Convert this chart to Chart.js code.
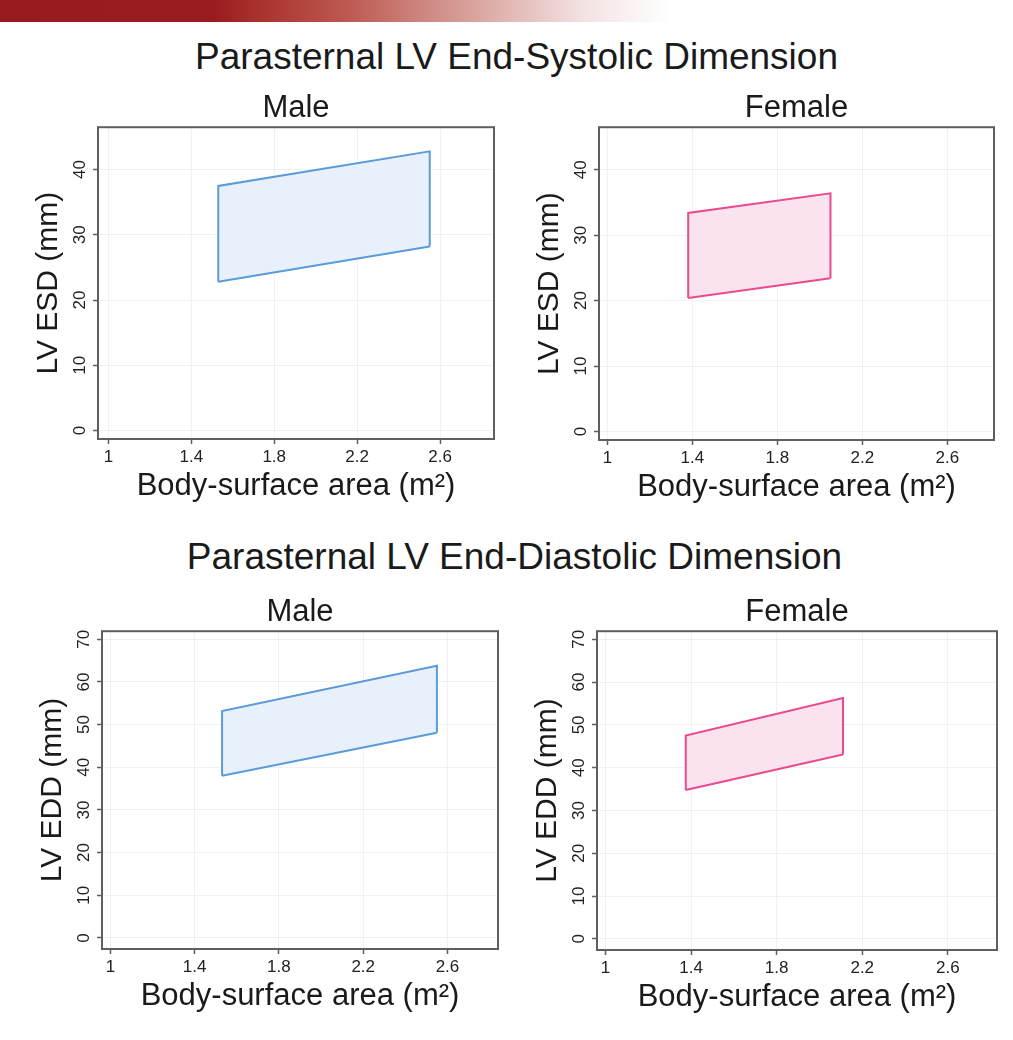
<!DOCTYPE html>
<html>
<head>
<meta charset="utf-8">
<script src="https://cdn.jsdelivr.net/npm/chart.js@4.4.1/dist/chart.umd.min.js"></script>
<style>
  body { margin: 0; background: #fff; width: 1013px; height: 1040px; position: relative; overflow: hidden;
         font-family: 'Liberation Sans', Arial, Helvetica, sans-serif; }
  .bar { position: absolute; left: 0; top: 0; width: 670px; height: 22px;
         background: linear-gradient(to right, #981a1f 0%, #9b1c20 32%, #a8302a 38%, #bd5a52 52%, #d8a19b 70%, #f3e2e2 87%, #ffffff 100%); }
  .head { position: absolute; left: 0; width: 1013px; text-align: center; font-size: 37px; color: #1a1a1a; line-height: 40px; }
  .box { position: absolute; }
</style>
</head>
<body>
<div class="bar"></div>
<div class="head" style="top:37px; padding-left:10px;">Parasternal LV End-Systolic Dimension</div>
<div class="head" style="top:537px; padding-left:8px;">Parasternal LV End-Diastolic Dimension</div>

<div class="box" style="left:31px; top:90px; width:477px; height:415px;"><canvas id="maleEsd"></canvas></div>
<div class="box" style="left:532px; top:90px; width:476px; height:416px;"><canvas id="femaleEsd"></canvas></div>
<div class="box" style="left:35px; top:594px; width:477px; height:421px;"><canvas id="maleEdd"></canvas></div>
<div class="box" style="left:530px; top:594px; width:481px; height:422px;"><canvas id="femaleEdd"></canvas></div>

<script>
// tick labels
const xTicks = [1, 1.4, 1.8, 2.2, 2.6];
const esdTicks = [0, 10, 20, 30, 40];
const eddTicks = [0, 10, 20, 30, 40, 50, 60, 70];

// normal ranges: BSA at both ends, lower and upper limit (mm)
const maleEsdBsa = [1.53, 2.55];
const maleEsdLower = [22.8, 28.2];
const maleEsdUpper = [37.5, 42.8];

const femaleEsdBsa = [1.38, 2.05];
const femaleEsdLower = [20.4, 23.4];
const femaleEsdUpper = [33.4, 36.4];

const maleEddBsa = [1.53, 2.55];
const maleEddLower = [38.0, 48.1];
const maleEddUpper = [53.2, 63.8];

const femaleEddBsa = [1.375, 2.11];
const femaleEddLower = [34.8, 43.1];
const femaleEddUpper = [47.5, 56.3];

const FONT = "'Liberation Sans', Arial, Helvetica, sans-serif";
const MALE = { line: '#5b9bd9', fill: '#e8f1fb' };
const FEMALE = { line: '#ea4b8f', fill: '#fae3ee' };

// box round the plot region, like Stata
const framePlugin = {
    id: 'frame',
    beforeDatasetsDraw(chart) {
        const { ctx, chartArea: a } = chart;
        ctx.save();
        ctx.strokeStyle = '#5f5f5f';
        ctx.lineWidth = 2;
        ctx.strokeRect(a.left, a.top, a.right - a.left, a.bottom - a.top);
        ctx.restore();
    }
};

function makeChart(id, cfg) {
    const { title, yTitle, bsa, lower, upper, yTickVals, yMin, yMax, xMin, xMax, col } = cfg;
    // lower edge, then the rest of the outline (left side, top, right side); the second fills down to the first
    const lowerLine = bsa.map((x, i) => ({ x, y: lower[i] }));
    const outline = [
        { x: bsa[0], y: lower[0] },
        { x: bsa[0], y: upper[0] },
        { x: bsa[1], y: upper[1] },
        { x: bsa[1], y: lower[1] }
    ];
    const gridColor = 'rgba(214,226,238,0.45)';
    return new Chart(document.getElementById(id), {
        type: 'line',
        data: {
            datasets: [
                { data: lowerLine, borderColor: col.line, borderWidth: 2, pointRadius: 0, fill: false, tension: 0 },
                { data: outline, borderColor: col.line, backgroundColor: col.fill, borderWidth: 2, pointRadius: 0, fill: '-1', tension: 0 }
            ]
        },
        options: {
            responsive: true,
            maintainAspectRatio: false,
            animation: false,
            layout: { padding: { top: 0, left: 0, bottom: 0, right: 14 } },
            plugins: {
                legend: { display: false },
                tooltip: { enabled: false },
                title: {
                    display: true, text: title, fullSize: false,
                    color: '#1a1a1a', font: { family: FONT, size: 31, weight: 'normal' },
                    padding: { top: 0, bottom: 0 }
                }
            },
            scales: {
                x: {
                    type: 'linear', min: xMin, max: xMax,
                    afterBuildTicks: s => { s.ticks = xTicks.map(v => ({ value: v })); },
                    afterFit: s => { s.height = 66; },
                    border: { display: false },
                    grid: { color: gridColor, tickColor: '#5f5f5f', tickLength: 5, tickWidth: 1.5 },
                    ticks: { color: '#222', font: { family: FONT, size: 17 }, padding: 3, maxRotation: 0, autoSkip: false,
                             callback: v => String(v) },
                    title: {
                        display: true, text: 'Body-surface area (m²)', color: '#1a1a1a',
                        font: { family: FONT, size: 31 }, padding: { top: 0, bottom: 0 }
                    }
                },
                y: {
                    type: 'linear', min: yMin, max: yMax,
                    afterBuildTicks: s => { s.ticks = yTickVals.map(v => ({ value: v })); },
                    afterFit: s => { s.width = 67; },
                    border: { display: false },
                    grid: { color: gridColor, tickColor: '#5f5f5f', tickLength: 5, tickWidth: 1.5 },
                    ticks: { color: '#222', font: { family: FONT, size: 17 }, padding: 3, minRotation: 90, maxRotation: 90, crossAlign: 'center', autoSkip: false },
                    title: {
                        display: true, text: yTitle, color: '#1a1a1a',
                        font: { family: FONT, size: 30 }, padding: { top: 0, bottom: 0 }
                    }
                }
            }
        },
        plugins: [framePlugin]
    });
}

makeChart('maleEsd', { title: 'Male', yTitle: 'LV ESD (mm)', bsa: maleEsdBsa, lower: maleEsdLower, upper: maleEsdUpper,
    yTickVals: esdTicks, yMin: -1.3, yMax: 46.5, xMin: 0.95, xMax: 2.86, col: MALE });
makeChart('femaleEsd', { title: 'Female', yTitle: 'LV ESD (mm)', bsa: femaleEsdBsa, lower: femaleEsdLower, upper: femaleEsdUpper,
    yTickVals: esdTicks, yMin: -1.3, yMax: 46.5, xMin: 0.96, xMax: 2.82, col: FEMALE });
makeChart('maleEdd', { title: 'Male', yTitle: 'LV EDD (mm)', bsa: maleEddBsa, lower: maleEddLower, upper: maleEddUpper,
    yTickVals: eddTicks, yMin: -2.6, yMax: 71.9, xMin: 0.96, xMax: 2.84, col: MALE });
makeChart('femaleEdd', { title: 'Female', yTitle: 'LV EDD (mm)', bsa: femaleEddBsa, lower: femaleEddLower, upper: femaleEddUpper,
    yTickVals: eddTicks, yMin: -2.6, yMax: 71.9, xMin: 0.96, xMax: 2.83, col: FEMALE });
</script>
</body>
</html>
